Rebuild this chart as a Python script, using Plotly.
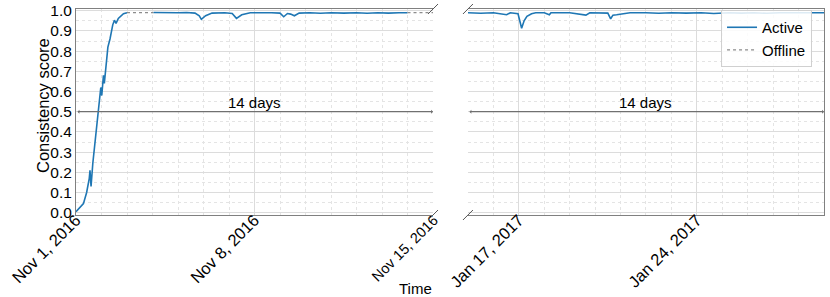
import plotly.graph_objects as go

# ---- data ----
left_active1_t = ["2016-11-01 00:00", "2016-11-01 07:00", "2016-11-01 10:00", "2016-11-01 12:30",
                  "2016-11-01 13:10", "2016-11-01 14:10", "2016-11-01 15:50", "2016-11-01 18:00",
                  "2016-11-01 20:30", "2016-11-01 22:00", "2016-11-01 23:20", "2016-11-02 00:15",
                  "2016-11-02 01:50", "2016-11-02 02:40", "2016-11-02 04:20", "2016-11-02 06:00",
                  "2016-11-02 08:00", "2016-11-02 10:35", "2016-11-02 12:10", "2016-11-02 13:40",
                  "2016-11-02 15:50", "2016-11-02 19:00", "2016-11-02 20:40", "2016-11-03 00:00"]
left_active1_v = [0.005, 0.045, 0.10, 0.17, 0.21, 0.13, 0.245, 0.36, 0.47, 0.56, 0.62, 0.58,
                  0.68, 0.64, 0.745, 0.82, 0.86, 0.93, 0.953, 0.937, 0.962, 0.978, 0.985, 0.99]

left_offline1_t = ["2016-11-03 00:00", "2016-11-04 01:00"]
left_offline1_v = [0.99, 0.99]

left_active2_t = ["2016-11-04 01:00", "2016-11-04 08:00", "2016-11-04 16:00", "2016-11-05 00:00",
                  "2016-11-05 08:00", "2016-11-05 16:00", "2016-11-05 20:00", "2016-11-05 22:00",
                  "2016-11-06 02:00", "2016-11-06 08:00", "2016-11-06 20:00", "2016-11-07 03:00",
                  "2016-11-07 07:00", "2016-11-07 12:00", "2016-11-07 20:00", "2016-11-08 06:00",
                  "2016-11-08 16:00", "2016-11-09 00:00", "2016-11-09 03:30", "2016-11-09 07:00",
                  "2016-11-09 10:00", "2016-11-09 13:30", "2016-11-09 18:00", "2016-11-10 04:00",
                  "2016-11-10 14:00", "2016-11-11 00:00", "2016-11-11 12:00", "2016-11-12 00:00",
                  "2016-11-12 10:00", "2016-11-12 20:00", "2016-11-13 06:00", "2016-11-13 16:00",
                  "2016-11-14 00:00"]
left_active2_v = [0.991, 0.99, 0.992, 0.99, 0.991, 0.988, 0.975, 0.957, 0.975, 0.988, 0.99, 0.986,
                  0.962, 0.98, 0.99, 0.991, 0.99, 0.988, 0.97, 0.986, 0.983, 0.975, 0.988, 0.99,
                  0.987, 0.99, 0.988, 0.99, 0.987, 0.99, 0.988, 0.99, 0.99]

left_offline2_t = ["2016-11-14 00:00", "2016-11-15 00:00"]
left_offline2_v = [0.99, 0.99]

right_active_t = ["2017-01-15 00:00", "2017-01-15 12:00", "2017-01-16 00:00", "2017-01-16 12:30",
                  "2017-01-16 16:00", "2017-01-16 23:15", "2017-01-17 02:40", "2017-01-17 05:00",
                  "2017-01-17 07:40", "2017-01-17 12:00", "2017-01-17 16:00", "2017-01-18 00:00",
                  "2017-01-18 04:50", "2017-01-18 06:20", "2017-01-19 00:00", "2017-01-19 15:20",
                  "2017-01-19 19:00", "2017-01-20 12:00", "2017-01-20 14:40", "2017-01-20 16:50",
                  "2017-01-20 20:20", "2017-01-21 01:30", "2017-01-21 09:00", "2017-01-22 00:00",
                  "2017-01-22 12:00", "2017-01-23 00:00", "2017-01-23 14:00", "2017-01-24 04:00",
                  "2017-01-24 16:00", "2017-01-25 06:00", "2017-01-25 18:00", "2017-01-26 06:00",
                  "2017-01-26 18:00", "2017-01-27 06:00", "2017-01-27 18:00", "2017-01-28 06:00",
                  "2017-01-28 18:00", "2017-01-29 00:00"]
right_active_v = [0.99, 0.987, 0.99, 0.98, 0.99, 0.985, 0.913, 0.95, 0.972, 0.985, 0.99, 0.99,
                  0.98, 0.99, 0.99, 0.978, 0.99, 0.988, 0.96, 0.978, 0.98, 0.985, 0.99, 0.99,
                  0.987, 0.99, 0.988, 0.99, 0.986, 0.99, 0.988, 0.99, 0.987, 0.99, 0.989, 0.99,
                  0.99, 0.99]

left_ticks = ["2016-11-01", "2016-11-08", "2016-11-15"]
left_ticktext = ["Nov 1, 2016", "Nov 8, 2016", '<span style="font-size:14.5px">Nov 15, 2016</span>']
right_ticks = ["2017-01-17", "2017-01-24"]
right_ticktext = ["Jan 17, 2017", "Jan 24, 2017"]
left_range = ["2016-11-01", "2016-11-15"]
right_range = ["2017-01-15", "2017-01-29"]
y_ticks = [0.0, 0.1, 0.2, 0.3, 0.4, 0.5, 0.6, 0.7, 0.8, 0.9, 1.0]
span_label = "14 days"

BLUE = "#1f77b4"
GRAY = "#8c8c8c"
FONT = "Liberation Sans, Arial, sans-serif"
DAY = 86400000

fig = go.Figure()
act = dict(mode="lines", line=dict(color=BLUE, width=1.6), name="Active")
off = dict(mode="lines", line=dict(color=GRAY, width=1.3, dash="dot"), name="Offline")
fig.add_trace(go.Scatter(x=left_active1_t, y=left_active1_v, xaxis="x", yaxis="y", showlegend=True, legendgroup="a", **act))
fig.add_trace(go.Scatter(x=left_offline1_t, y=left_offline1_v, xaxis="x", yaxis="y", showlegend=True, legendgroup="o", **off))
fig.add_trace(go.Scatter(x=left_active2_t, y=left_active2_v, xaxis="x", yaxis="y", showlegend=False, legendgroup="a", **act))
fig.add_trace(go.Scatter(x=left_offline2_t, y=left_offline2_v, xaxis="x", yaxis="y", showlegend=False, legendgroup="o", **off))
fig.add_trace(go.Scatter(x=right_active_t, y=right_active_v, xaxis="x2", yaxis="y2", showlegend=False, legendgroup="a", **act))

grid_major = "#dcdcdc"
grid_minor = "#e4e4e4"
frame = "#808080"

def xaxis(domain, rng, tv, tt, t0, anchor):
    return dict(domain=domain, range=rng, type="date", anchor=anchor,
                tickmode="array", tickvals=tv, ticktext=tt, tickangle=-45,
                tickfont=dict(family=FONT, size=16.5, color="black"), ticks="",
                ticklabelstandoff=-12,
                showgrid=True, gridcolor=grid_major, gridwidth=1,
                minor=dict(dtick=DAY, tick0=t0, showgrid=True, gridcolor=grid_minor, griddash="dot", ticks=""),
                showline=True, linecolor=frame, linewidth=1, mirror=True, zeroline=False)

ymain = dict(range=[-0.0114, 1.0084], tickvals=y_ticks, ticktext=[f"{v:.1f}" for v in y_ticks],
             showgrid=True, gridcolor=grid_major, gridwidth=1,
             minor=dict(dtick=0.05, tick0=0, showgrid=True, gridcolor=grid_minor, griddash="dot", ticks=""),
             zeroline=False, ticks="")

fig.update_layout(
    width=830, height=297,
    margin=dict(l=76, r=6, t=9, b=82, autoexpand=False),
    paper_bgcolor="white", plot_bgcolor="white",
    font=dict(family=FONT, size=14, color="black"),
    xaxis=xaxis([0, 0.4773], left_range, left_ticks, left_ticktext, "2016-11-01", "y"),
    xaxis2=xaxis([0.524, 1.0], right_range, right_ticks, right_ticktext, "2017-01-15", "y2"),
    yaxis=dict(domain=[0, 1], anchor="x", showline=True, linecolor=frame, linewidth=1,
               tickfont=dict(family=FONT, size=15.5, color="black"), **ymain),
    yaxis2=dict(domain=[0, 1], anchor="x2", side="right", showticklabels=False,
                showline=True, linecolor=frame, linewidth=1, **ymain),
    legend=dict(x=0.984, y=0.995, xanchor="right", yanchor="top",
                bgcolor="rgba(255,255,255,0.85)", bordercolor="#d0d0d0", borderwidth=1,
                font=dict(family=FONT, size=15), tracegroupgap=0),
    showlegend=True,
)

# double-headed arrows and labels
for xr, yr, rng, mid in [("x", "y", left_range, "2016-11-08"), ("x2", "y2", right_range, "2017-01-22")]:
    fig.add_annotation(x=rng[1], y=0.5, ax=rng[0], ay=0.5, xref=xr, yref=yr, axref=xr, ayref=yr,
                       text="", showarrow=True, arrowside="end+start", arrowhead=1, arrowsize=0.5,
                       arrowwidth=1.3, arrowcolor="#707070", standoff=0, startstandoff=0)
    fig.add_annotation(x=mid, y=0.5, xref=xr, yref=yr, text=span_label, showarrow=False,
                       yanchor="bottom", yshift=-1, font=dict(family=FONT, size=15, color="black"))

# axis titles
fig.add_annotation(x=-0.0441, y=(215 - 106) / 206, xref="paper", yref="paper", text="Consistency score", textangle=-90,
                   showarrow=False, font=dict(family=FONT, size=16.5, color="black"), xanchor="center", yanchor="middle")
fig.add_annotation(x=(415 - 76) / 748, y=-(288 - 215) / 206, xref="paper", yref="paper", text="Time",
                   showarrow=False, font=dict(family=FONT, size=15, color="black"), xanchor="center", yanchor="middle")

# break marks
for xr, yr, xa in [("x domain", "y domain", 1), ("x2 domain", "y2 domain", 0)]:
    for ya in (0, 1):
        fig.add_shape(type="line", xref=xr, yref=yr, xsizemode="pixel", ysizemode="pixel",
                      xanchor=xa, yanchor=ya, x0=-5, x1=5, y0=-5, y1=5,
                      line=dict(color="#555555", width=1))

fig.write_html("out.html", config={"displayModeBar": False},
               post_script="document.body.style.margin='0';")
